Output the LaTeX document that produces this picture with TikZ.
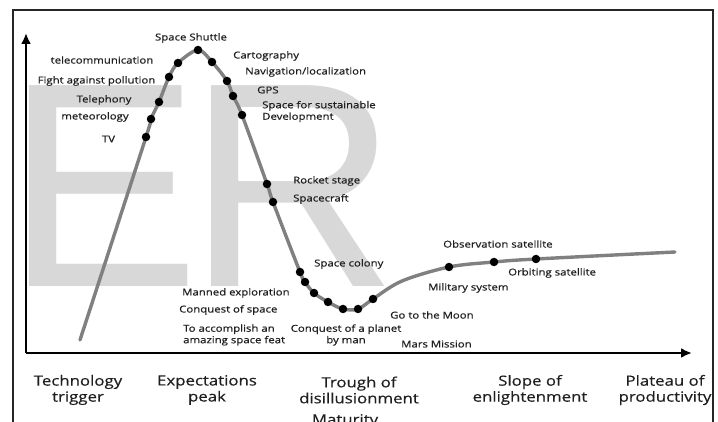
\documentclass[tikz,border=0pt]{standalone}
\usepackage{fontspec}
\usetikzlibrary{arrows.meta}
\newfontfamily\itemfont[FakeStretch=1.2,FakeBold=0.6]{Open Sans}
\newfontfamily\phasefont[FakeStretch=1.2,FakeBold=0.4]{Open Sans}
\newfontfamily\markfont{Liberation Sans}
\definecolor{markgray}{RGB}{216,216,216}
\definecolor{curvegray}{RGB}{128,128,128}
\begin{document}
\begin{tikzpicture}[x=1pt,y=-1pt,
  item/.style={font=\itemfont\fontsize{9.5}{11.5}\selectfont, text=black!88, inner sep=0pt},
  phase/.style={font=\phasefont\fontsize{14}{16}\selectfont, align=center, inner sep=0pt, text=black!88},
  dot/.style={circle, fill=black, inner sep=0pt, minimum size=8.5pt},
  hype/.style={draw=curvegray, line width=3.4pt, line cap=round},
  axis/.style={line width=2.8pt, -{Latex[length=11pt,width=10pt]}},
  frame/.style={line width=1.6pt, draw=black!85},
  wmark/.style={font=\markfont\fontsize{292}{292}\selectfont, text=markgray, inner sep=0pt, anchor=base west}]
\useasboundingbox (0,0) rectangle (718,422);
\clip (0,0) rectangle (718,422);
\fill[white] (0,0) rectangle (718,422);

% watermark letters
\node[wmark] (wmE) at (5,287) {E};
\node[wmark] (wmR) at (187,287) {R};

% outer frame
\draw[frame] (13,430) -- (13,10) -- (713,10) -- (713,430);

% axes
\coordinate (origin) at (26,353);
\coordinate (ytip) at (26,33);
\coordinate (xtip) at (692,353);
\draw[axis] (origin) -- (ytip);
\draw[axis] (origin) -- (xtip);

% points along the hype curve
\coordinate (c0) at (80,340);
\coordinate (c1) at (146,137);
\coordinate (c2) at (151,119);
\coordinate (c3) at (159,102);
\coordinate (c4) at (169,77);
\coordinate (c5) at (178,63);
\coordinate (c6) at (198,50);
\coordinate (c7) at (212,62);
\coordinate (c8) at (227,81);
\coordinate (c9) at (233,96);
\coordinate (c10) at (242,115);
\coordinate (c11) at (267,184);
\coordinate (c12) at (273,202);
\coordinate (c13) at (300,272);
\coordinate (c14) at (305,282);
\coordinate (c15) at (314,293);
\coordinate (c16) at (328,302);
\coordinate (c17) at (343,309);
\coordinate (c18) at (358,309);
\coordinate (c19) at (373,299);
\coordinate (m1) at (402,281);
\coordinate (c20) at (449,267);
\coordinate (c21) at (494,262);
\coordinate (c22) at (536,259);
\coordinate (c23) at (675,252);

\draw[hype] plot[smooth, tension=0.55] coordinates {(c0) (c1) (c2) (c3) (c4) (c5) (c6) (c7) (c8) (c9) (c10) (c11) (c12) (c13) (c14) (c15) (c16) (c17) (c18) (c19) (m1) (c20) (c21) (c22) (c23)};

\foreach \i in {1,...,22} {\node[dot] (d\i) at (c\i) {};}

% technology labels
\node[item] (tShuttle) at (191,38) {Space Shuttle};
\node[item] (tTelecom) at (102,60) {telecommunication};
\node[item] (tPollution) at (96.5,81) {Fight against pollution};
\node[item] (tTelephony) at (104,100) {Telephony};
\node[item] (tMeteo) at (95,117) {meteorology};
\node[item] (tTV) at (108.5,139) {TV};
\node[item, anchor=west] (tCarto) at (233,56) {Cartography};
\node[item, anchor=west] (tNav) at (245,72) {Navigation/localization};
\node[item, anchor=west] (tGPS) at (257,90) {GPS};
\node[item, anchor=west, align=left] (tSust) at (262,111.5) {Space for sustainable\\Development};
\node[item, anchor=west] (tRocket) at (293,181) {Rocket stage};
\node[item, anchor=west] (tCraft) at (293,199) {Spacecraft};
\node[item, anchor=west] (tColony) at (314,264) {Space colony};
\node[item, anchor=west] (tManned) at (182,293) {Manned exploration};
\node[item, anchor=west] (tConquest) at (179,310) {Conquest of space};
\node[item, anchor=west, align=left] (tFeat) at (183,335) {To accomplish an\\amazing space feat};
\node[item, align=center] (tPlanet) at (346,335) {Conquest of a planet\\by man};
\node[item, anchor=west] (tMoon) at (390,315) {Go to the Moon};
\node[item, anchor=west] (tMars) at (401,344) {Mars Mission};
\node[item, anchor=west] (tObs) at (443,244) {Observation satellite};
\node[item, anchor=west] (tOrbit) at (508,273) {Orbiting satellite};
\node[item, anchor=west] (tMil) at (428,288) {Military system};

% phase labels
\node[phase] (pTrigger) at (78,390) {Technology\\trigger};
\node[phase] (pPeak) at (207,390) {Expectations\\peak};
\node[phase] (pTrough) at (359,390) {Trough of\\disillusionment};
\node[phase] (pSlope) at (530,390) {Slope of\\enlightenment};
\node[phase] (pPlateau) at (665,390) {Plateau of\\productivity};
\node[phase] (pMaturity) at (345,421) {Maturity};
\end{tikzpicture}
\end{document}
